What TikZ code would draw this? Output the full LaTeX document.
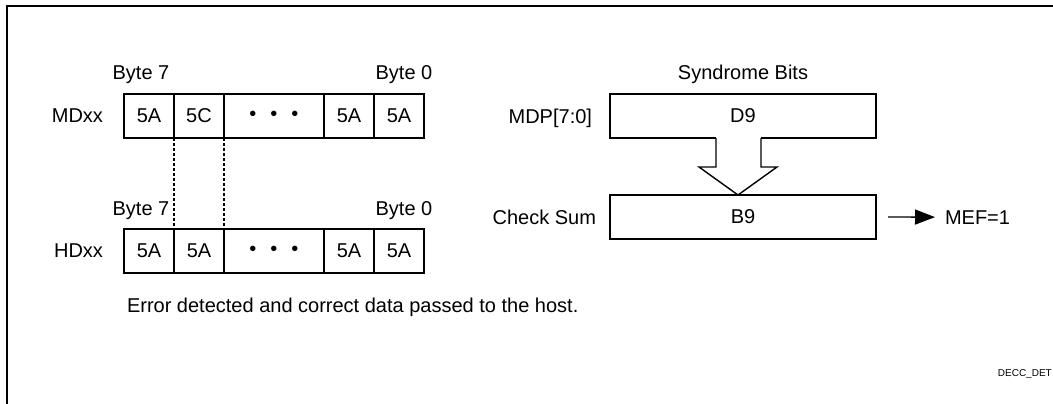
\documentclass[tikz,border=0pt]{standalone}
\usepackage{fontspec}
\setmainfont{Liberation Sans}
\usetikzlibrary{arrows.meta,positioning,calc}

\begin{document}
\begin{tikzpicture}[x=1pt,y=-1pt,
		cell/.style={draw,line width=1.4pt,minimum width=50pt,minimum height=44pt,inner sep=0pt,outer sep=0pt,font=\fontsize{20}{24}\selectfont},
		widecell/.style={cell,minimum width=100pt},
		regbox/.style={cell,minimum width=266pt,anchor=north west},
		lbl/.style={inner sep=0pt,outer sep=0pt,font=\fontsize{20}{24}\selectfont}]
			\useasboundingbox (0,0) rectangle (1053,404);
			\draw[line width=2pt] (1053,6.5) -- (7,6.5) -- (7,404);
			% memory data row
			\node[cell,anchor=north west] (md7) at (124,94) {5A};
			\node[cell,right=0pt of md7] (md6) {5C};
			\node[widecell,right=0pt of md6] (mddots) {\textbullet\hskip14pt\textbullet\hskip14pt\textbullet};
			\node[cell,right=0pt of mddots] (md1) {5A};
			\node[cell,right=0pt of md1] (md0) {5A};
			% host data row
			\node[cell,anchor=north west] (hd7) at (124,229) {5A};
			\node[cell,right=0pt of hd7] (hd6) {5A};
			\node[widecell,right=0pt of hd6] (hddots) {\textbullet\hskip14pt\textbullet\hskip14pt\textbullet};
			\node[cell,right=0pt of hddots] (hd1) {5A};
			\node[cell,right=0pt of hd1] (hd0) {5A};
			\draw[line width=1.4pt,dash pattern=on 3pt off 2pt] (md7.south east) -- (hd7.north east);
			\draw[line width=1.4pt,dash pattern=on 3pt off 2pt] (md6.south east) -- (hd6.north east);
			\node[lbl,left=21pt of md7] (mdxx) {MDxx};
			\node[lbl,left=21pt of hd7] (hdxx) {HDxx};
			\node[lbl,anchor=base] (mdb7) at (141,80) {Byte 7};
			\node[lbl,anchor=base] (mdb0) at (404,80) {Byte 0};
			\node[lbl,anchor=base] (hdb7) at (141,215) {Byte 7};
			\node[lbl,anchor=base] (hdb0) at (404,215) {Byte 0};
			% syndrome and check sum
			\node[regbox] (d9) at (610,94) {D9};
			\node[regbox] (b9) at (610,195) {B9};
			\node[lbl,anchor=base] (synd) at (743,80) {Syndrome Bits};
			\node[lbl,anchor=base east] (mdp) at (592,123) {MDP[7:0]};
			\node[lbl,anchor=base east] (chk) at (596,224) {Check Sum};
			\node[lbl,anchor=base west] (mef) at (945,224) {MEF=1};
			\coordinate (tip) at ([xshift=-5pt]b9.north);
			\fill[white] ($(d9.south)+(-27,-1.2)$) rectangle ($(d9.south)+(18,30)$);
			\draw[line width=1.4pt] ($(d9.south)+(-27,0)$) -- ++(0,29) -- ++(-17,0) -- (tip) -- ($(d9.south)+(34,29)$) -- ++(-16,0) -- ++(0,-29);
			\draw[line width=1.4pt,-{Triangle[length=20pt,width=15pt]},shorten >=10pt] ([xshift=12pt]b9.east) -- (mef.west);
			\node[lbl,anchor=base west] (note) at (127,312) {Error detected and correct data passed to the host.};
			\node[inner sep=0pt,anchor=base east,font=\fontsize{10}{12}\selectfont] (figid) at (1052,376) {DECC\_DET};
		\end{tikzpicture}
\end{document}
